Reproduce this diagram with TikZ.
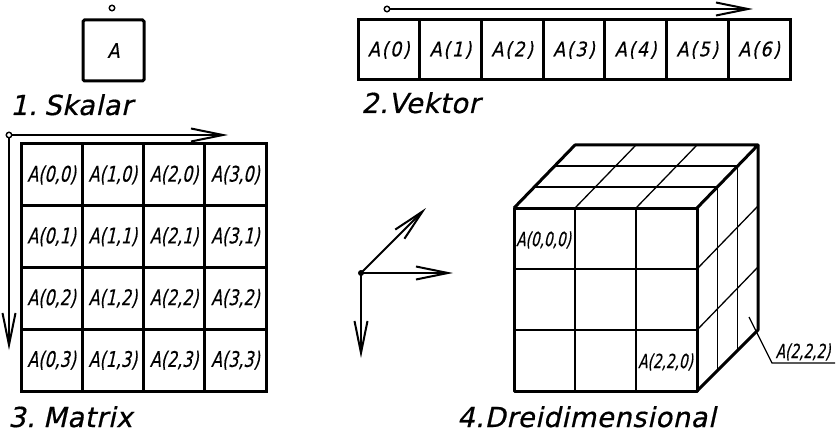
\documentclass[tikz,border=0pt]{standalone}
\usepackage{fontspec}
\setmainfont{DejaVu Sans}[FakeSlant=0.22]
\newfontfamily\headfont{DejaVu Sans}[FakeSlant=0.22,LetterSpace=2,FakeBold=0.6]
\newfontfamily\cellfont{DejaVu Sans}[FakeSlant=0.22,FakeStretch=0.74,FakeBold=0.4]
\newfontfamily\vecfont{DejaVu Sans}[FakeSlant=0.22,FakeStretch=0.88,LetterSpace=8,FakeBold=0.4]
\newfontfamily\cubefont{DejaVu Sans}[FakeSlant=0.22,FakeStretch=0.7,FakeBold=0.4]
\usetikzlibrary{arrows.meta}
\tikzset{
  heavy/.style={line width=3pt},
  light/.style={line width=1.3pt},
  cellbox/.style={draw, line width=3pt, inner sep=0pt, outer sep=0pt},
  mcell/.style={cellbox, minimum width=61.25pt, minimum height=61.75pt,
    font=\cellfont\fontsize{21.5}{21.5}\selectfont},
  vcell/.style={cellbox, minimum width=61.71pt, minimum height=60pt,
    font=\vecfont\fontsize{20}{20}\selectfont},
  scell/.style={cellbox, rounded corners=1.5pt, minimum width=61pt, minimum height=61pt,
    font=\vecfont\fontsize{20}{20}\selectfont},
  heading/.style={anchor=base west, inner sep=0pt, font=\headfont\fontsize{27.5}{27.5}\selectfont},
  cubetxt/.style={inner sep=0pt, font=\cubefont\fontsize{19.5}{19.5}\selectfont},
  opendot/.style={circle, draw, fill=white, inner sep=0pt, minimum size=5.5pt, line width=1.4pt},
  fulldot/.style={circle, fill=black, inner sep=0pt, minimum size=6pt},
  arr/.style={line width=2pt, -{Straight Barb[length=32pt,width=13pt,line width=2pt]}},
}
\begin{document}
\begin{tikzpicture}[x=1pt,y=-1pt]
\useasboundingbox (0,0) rectangle (838,433);

% 1. Skalar
\node[scell] (s) at (113.5,50.5) {A};
\node[opendot] (sd) at (112,8) {};
\node[heading] (h1) at (10,115) {1.\hspace{7pt}Skalar};

% 2. Vektor
\foreach \i in {0,...,6}
  \node[vcell] (v\i) at ({358+61.714*(\i+0.5)},50) {A(\i)};
\node[opendot] (vd) at (387,9) {};
\coordinate (vend) at (753,9);
\draw[arr] (vd) -- (vend);
\node[heading] (h2) at (361,113) {2.Vektor};

% 3. Matrix
\foreach \i in {0,...,3}
  \foreach \j in {0,...,3}
    \node[mcell] (m\i\j) at ({21+61.25*(\i+0.5)},{144+61.75*(\j+0.5)}) {A(\i,\j)};
\node[opendot] (md) at (9,135) {};
\coordinate (mx) at (228,135);
\coordinate (my) at (9,350);
\draw[arr] (md) -- (mx);
\draw[arr] (md) -- (my);
\node[heading] (h3) at (8,427) {3.\hspace{8pt}Matrix};

% axes
\node[fulldot] (o) at (361,273) {};
\coordinate (ax) at (453,273);
\coordinate (ad) at (426,208);
\coordinate (ay) at (361,358);
\draw[arr] (o.center) -- (ax);
\draw[arr] (o.center) -- (ad);
\draw[arr] (o.center) -- (ay);

% 4. cube
\coordinate (f00) at (514,208);
\coordinate (f30) at (697,208);
\coordinate (f03) at (514,391);
\coordinate (f33) at (697,391);
\coordinate (b00) at (575,145);
\coordinate (b30) at (758,145);
\coordinate (b33) at (758,330);
% thin interior lines
\draw[light] (575,208) -- (575,391) (636,208) -- (636,391);
\draw[light] (514,269) -- (697,269) (514,330) -- (697,330);
\draw[light] (575,208) -- (636,145) (636,208) -- (697,145);
\draw[light] (534.33,187) -- (717.33,187) (554.67,166) -- (737.67,166);
\draw[light] (717.33,187) -- (717.33,370) (737.67,166) -- (737.67,349);
\draw[light] (697,269) -- (758,206) (697,330) -- (758,267);
% outline
\draw[heavy, line join=round] (f00) rectangle (f33);
\draw[heavy, line join=round] (f00) -- (b00) -- (b30) -- (f30);
\draw[heavy, line join=round] (b30) -- (b33) -- (f33);
\node[cubetxt, anchor=west] (t000) at (516,240) {A(0,0,0)};
\node[cubetxt] (t220) at (665.5,362) {A(2,2,0)};
\node[cubetxt] (t222) at (803,352) {A(2,2,2)};
\coordinate (l1) at (749,317);
\coordinate (l2) at (772,363);
\coordinate (l3) at (835,363);
\draw[light] (l1) -- (l2) -- (l3);
\node[heading] (h4) at (457,427) {4.Dreidimensional};
\end{tikzpicture}
\end{document}
